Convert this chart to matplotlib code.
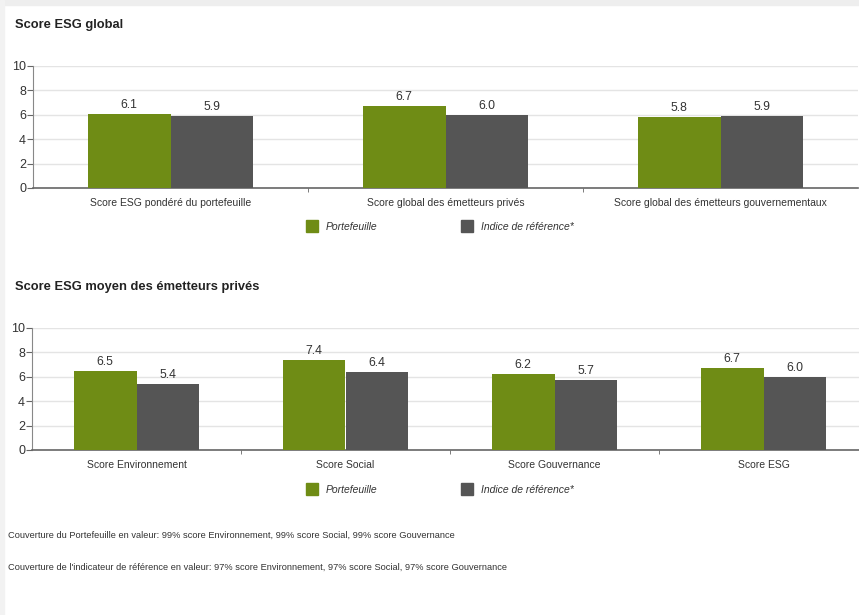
import matplotlib
matplotlib.use("Agg")
import matplotlib.pyplot as plt
from matplotlib.patches import Patch
import numpy as np

plt.rcParams['font.family'] = ['Liberation Sans', 'DejaVu Sans']

# données
cat_global = ['Score ESG pondéré du portefeuille', 'Score global des émetteurs privés',
              'Score global des émetteurs gouvernementaux']
ptf_global = [6.1, 6.7, 5.8]
ref_global = [5.9, 6.0, 5.9]

cat_prive = ['Score Environnement', 'Score Social', 'Score Gouvernance', 'Score ESG']
ptf_prive = [6.5, 7.4, 6.2, 6.7]
ref_prive = [5.4, 6.4, 5.7, 6.0]

yticks = [0, 2, 4, 6, 8, 10]
lab_ptf = 'Portefeuille'
lab_ref = 'Indice de référence*'
notes = ["Couverture du Portefeuille en valeur: 99% score Environnement, 99% score Social, 99% score Gouvernance",
         "Couverture de l'indicateur de référence en valeur: 97% score Environnement, 97% score Social, 97% score Gouvernance"]

GREEN = '#6f8c15'
GREY = '#555555'
W, H = 859, 615

fig = plt.figure(figsize=(W / 100, H / 100), dpi=100)
fig.patch.set_facecolor('white')


def px(x, y, w, h):
    return [x / W, 1 - (y + h) / H, w / W, h / H]


def draw(ax, cats, ptf, ref):
    n = len(cats)
    x = np.arange(n)
    bw = 0.30
    b1 = ax.bar(x - bw / 2, ptf, bw, color=GREEN, zorder=3)
    b2 = ax.bar(x + bw / 2, ref, bw, color=GREY, zorder=3)
    for bars, vals in ((b1, ptf), (b2, ref)):
        for b, v in zip(bars, vals):
            ax.text(b.get_x() + b.get_width() / 2, v + 0.25, f'{v:.1f}',
                    ha='center', va='bottom', fontsize=8.8, color='#333333')
    ax.set_xlim(-0.5, n - 0.5)
    ax.set_ylim(0, 10)
    ax.set_yticks(yticks)
    ax.tick_params(axis='y', labelsize=9, length=4, width=0.8, color='#666666',
                   labelcolor='#333333', pad=1)
    ax.set_xticks(x)
    ax.set_xticklabels(cats, fontsize=7.5, color='#333333')
    ax.tick_params(axis='x', length=0, pad=7)
    ax.set_xticks(np.arange(1, n) - 0.5, minor=True)
    ax.tick_params(axis='x', which='minor', length=3, color='#666666')
    ax.grid(axis='y', color='#e4e4e4', lw=1, zorder=0)
    for s in ('top', 'right'):
        ax.spines[s].set_visible(False)
    ax.spines['left'].set_color('#888888')
    ax.spines['bottom'].set_color('#666666')
    ax.spines['bottom'].set_linewidth(1.2)


def legende(y):
    for lab, col, x in ((lab_ptf, GREEN, 304), (lab_ref, GREY, 459)):
        lg = fig.legend(handles=[Patch(color=col, label=lab)], loc='upper left',
                        bbox_to_anchor=(x / W, 1 - y / H), frameon=False,
                        handlelength=1.1, handleheight=1.4, handletextpad=0.8,
                        borderaxespad=0, borderpad=0.2,
                        prop={'size': 7.5, 'style': 'italic'})
        for t in lg.get_texts():
            t.set_color('#333333')


ax1 = fig.add_axes(px(33, 66, 825, 122))
draw(ax1, cat_global, ptf_global, ref_global)
legende(218)

ax2 = fig.add_axes(px(32, 328, 836, 122))
draw(ax2, cat_prive, ptf_prive, ref_prive)
legende(481)

fig.text(15 / W, 1 - 25 / H, 'Score ESG global', fontsize=9.3, fontweight='bold',
         va='center', color='#222222')
fig.text(15 / W, 1 - 287 / H, 'Score ESG moyen des émetteurs privés', fontsize=9.3,
         fontweight='bold', va='center', color='#222222')
fig.text(8 / W, 1 - 535 / H, notes[0], fontsize=6.7, va='center', color='#333333')
fig.text(8 / W, 1 - 567 / H, notes[1], fontsize=6.7, va='center', color='#333333')

# liserés gris (haut et gauche) comme sur l'original
fig.patches.append(plt.Rectangle((0, 1 - 5 / H), 1, 5 / H, transform=fig.transFigure,
                                 color='#eeeeee', zorder=0))
fig.patches.append(plt.Rectangle((0, 0), 4 / W, 1, transform=fig.transFigure,
                                 color='#f2f2f2', zorder=0))

fig.savefig('out.png', dpi=100)
